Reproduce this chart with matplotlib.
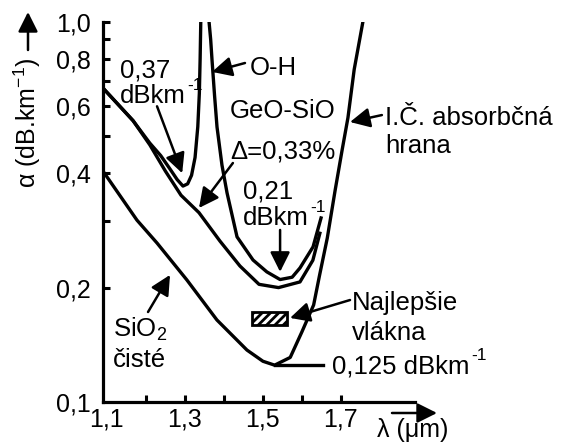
import matplotlib.pyplot as plt
from matplotlib.patches import Rectangle
from matplotlib.ticker import FixedLocator, FixedFormatter, NullLocator

plt.rcParams['font.family'] = ['Liberation Sans', 'DejaVu Sans']
plt.rcParams['mathtext.fontset'] = 'custom'
plt.rcParams['mathtext.rm'] = 'Liberation Sans'
plt.rcParams['mathtext.it'] = 'Liberation Sans:italic'
plt.rcParams['mathtext.default'] = 'regular'
plt.rcParams['hatch.linewidth'] = 2.0

# pure silica fibre (Rayleigh tail + IR absorption edge)
sio2_lam = [1.09, 1.177, 1.2285, 1.305, 1.382, 1.459, 1.50, 1.53,
            1.57, 1.60, 1.63, 1.645, 1.665, 1.685, 1.703, 1.718, 1.734, 1.76]
sio2_att = [0.405, 0.301, 0.262, 0.2095, 0.1644, 0.137, 0.128, 0.125,
            0.131, 0.153, 0.18, 0.215, 0.27, 0.36, 0.46, 0.56, 0.75, 1.05]

# GeO2-SiO2 core, delta = 0.33 %
geo_lam = [1.09, 1.167, 1.21, 1.25, 1.29, 1.336, 1.39, 1.441, 1.49, 1.54,
           1.595, 1.628, 1.646]
geo_att = [0.67, 0.55, 0.475, 0.405, 0.35, 0.315, 0.265, 0.228, 0.204, 0.20,
           0.207, 0.236, 0.278]

# same fibre with O-H contamination, split at the O-H peak
oh_lam_a = [1.09, 1.167, 1.21, 1.238, 1.262, 1.28, 1.295, 1.307, 1.317,
            1.326, 1.333, 1.337, 1.339, 1.341]
oh_att_a = [0.67, 0.55, 0.48, 0.445, 0.41, 0.385, 0.37, 0.375, 0.395,
            0.44, 0.53, 0.65, 0.80, 1.05]
oh_lam_b = [1.360, 1.366, 1.3695, 1.376, 1.3823, 1.395, 1.408, 1.4336,
            1.4746, 1.51, 1.544, 1.575, 1.595, 1.6285, 1.649]
oh_att_b = [1.05, 0.90, 0.794, 0.64, 0.529, 0.42, 0.355, 0.272,
            0.2364, 0.22, 0.21, 0.213, 0.2253, 0.256, 0.305]

floor_lam = [1.53, 1.654]
floor_att = [0.125, 0.125]

best_lam = (1.472, 1.562)
best_att = (0.1594, 0.1725)

x_ticks = [1.1, 1.2, 1.3, 1.4, 1.5, 1.6, 1.7]
x_labels = ['1,1', '', '1,3', '', '1,5', '', '1,7']
y_ticks = [0.1, 0.2, 0.3, 0.4, 0.5, 0.6, 0.7, 0.8, 0.9, 1.0]
y_labels = ['0,1', '0,2', '', '0,4', '', '0,6', '', '0,8', '', '1,0']

fig = plt.figure(figsize=(5.62, 4.48), dpi=100)
ax = fig.add_axes([0.1833, 0.1027, 0.5552, 0.8482])
ax.set_yscale('log')
ax.set_xlim(1.09, 1.89)
ax.set_ylim(0.1, 1.0)

lw = 2.4
for lam, att in [(sio2_lam, sio2_att), (geo_lam, geo_att),
                 (oh_lam_a, oh_att_a), (oh_lam_b, oh_att_b), (floor_lam, floor_att)]:
    ax.plot(lam, att, color='k', lw=lw, solid_joinstyle='round')

ax.add_patch(Rectangle((best_lam[0], best_att[0]), best_lam[1] - best_lam[0],
                       best_att[1] - best_att[0], facecolor='white',
                       edgecolor='k', hatch='////', lw=2))

for side in ['top', 'right']:
    ax.spines[side].set_visible(False)
for side in ['left', 'bottom']:
    ax.spines[side].set_linewidth(2.3)

ax.xaxis.set_major_locator(FixedLocator(x_ticks))
ax.xaxis.set_major_formatter(FixedFormatter(x_labels))
ax.yaxis.set_major_locator(FixedLocator(y_ticks))
ax.yaxis.set_major_formatter(FixedFormatter(y_labels))
ax.xaxis.set_minor_locator(NullLocator())
ax.yaxis.set_minor_locator(NullLocator())
ax.tick_params(direction='in', length=5, width=2.2, labelsize=18)
ax.tick_params(axis='x', pad=4)
ax.tick_params(axis='y', pad=9)
ax.xaxis.get_major_ticks(len(x_ticks))[0].tick1line.set_visible(False)
ax.yaxis.get_major_ticks(len(y_ticks))[0].tick1line.set_visible(False)

arrow = dict(arrowstyle='-|>,head_length=0.6,head_width=0.3', color='k',
             lw=1.8, mutation_scale=20, shrinkA=0, shrinkB=0)
fs = 18.5


def unit_text(x, y, base):
    # "dBkm" with a raised -1 placed just after it
    t = ax.text(x, y, base, fontsize=fs)
    ax.annotate('-1', xy=(1, 1), xycoords=t, xytext=(1, -1),
                textcoords='offset points', ha='left', va='center', fontsize=12.5)


ax.text(1.1336, 0.716, '0,37', fontsize=fs)
unit_text(1.1336, 0.612, 'dBkm')
ax.annotate('', xy=(1.293, 0.40), xytext=(1.2285, 0.600), arrowprops=arrow)

ax.text(1.467, 0.725, 'O-H', fontsize=fs)
ax.annotate('', xy=(1.3695, 0.739), xytext=(1.454, 0.78), arrowprops=arrow)

ax.text(1.4156, 0.559, 'GeO-SiO', fontsize=fs)
ax.text(1.4156, 0.4385, 'Δ=0,33%', fontsize=fs)
ax.annotate('', xy=(1.336, 0.324), xytext=(1.423, 0.4255), arrowprops=arrow)

ax.text(1.449, 0.344, '0,21', fontsize=fs)
unit_text(1.449, 0.292, 'dBkm')
ax.annotate('', xy=(1.544, 0.22), xytext=(1.544, 0.2836), arrowprops=arrow)

ax.text(1.813, 0.5357, 'I.Č. absorbčná', fontsize=fs)
ax.text(1.813, 0.452, 'hrana', fontsize=fs)
ax.annotate('', xy=(1.7233, 0.5455), xytext=(1.805, 0.569), arrowprops=arrow)

ax.text(1.7285, 0.1746, 'Najlepšie', fontsize=fs)
ax.text(1.7285, 0.1456, 'vlákna', fontsize=fs)
ax.annotate('', xy=(1.5695, 0.1664), xytext=(1.7233, 0.1855), arrowprops=arrow)

unit_text(1.677, 0.1192, '0,125 dBkm')

ax.text(1.1156, 0.1483, r'SiO$_2$', fontsize=fs)
ax.text(1.1156, 0.1236, 'čisté', fontsize=fs)
ax.annotate('', xy=(1.2618, 0.216), xytext=(1.2054, 0.1725), arrowprops=arrow)

# axis titles with their arrows
fig.text(27 / 562, 1 - 123 / 448, r'α (dB.km$^{-1}$)', rotation=90,
         ha='center', va='center', fontsize=18)
ax.annotate('', xy=(28 / 562, 1 - 12 / 448), xytext=(28 / 562, 1 - 50 / 448),
            xycoords='figure fraction', arrowprops=arrow)
fig.text(413 / 562, 1 - 430 / 448, 'λ (μm)', ha='center', va='center', fontsize=18)
ax.annotate('', xy=(437 / 562, 1 - 413 / 448), xytext=(392 / 562, 1 - 413 / 448),
            xycoords='figure fraction', arrowprops=arrow)

fig.savefig('out.png', dpi=100)
